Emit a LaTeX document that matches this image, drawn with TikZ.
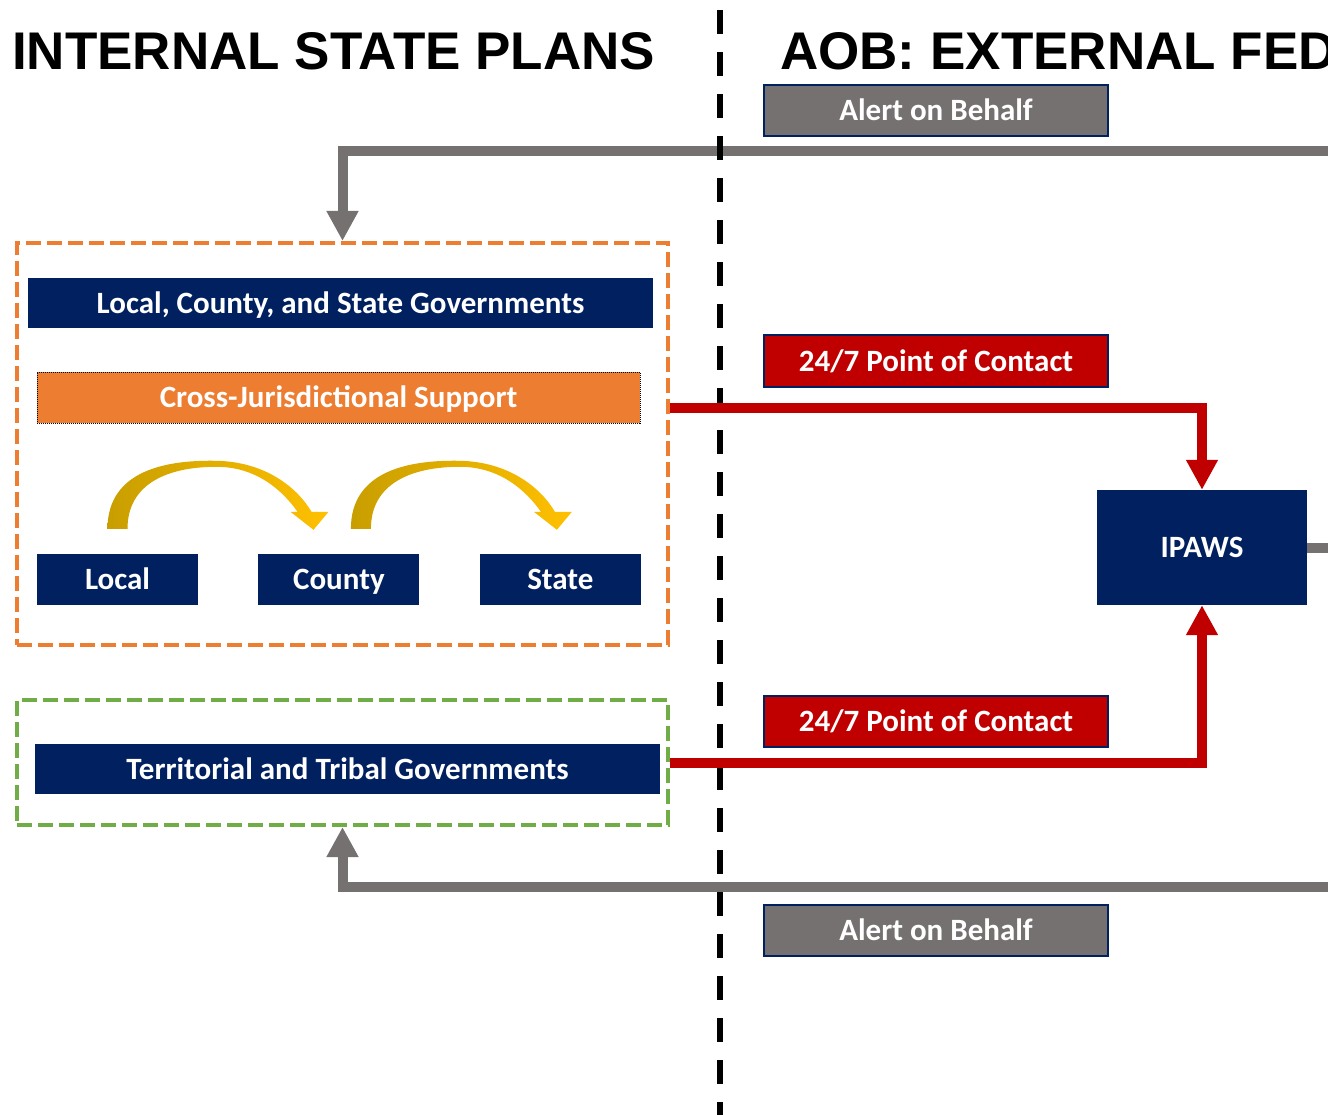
\documentclass[tikz,border=0pt]{standalone}
\usepackage{fontspec}
\setmainfont{Carlito}
\newfontfamily\headfont{Liberation Sans}
\usetikzlibrary{arrows.meta, positioning}

\definecolor{fednavy}{RGB}{0,32,96}
\definecolor{planorange}{RGB}{237,125,49}
\definecolor{tribegreen}{RGB}{112,173,71}
\definecolor{pocred}{RGB}{192,0,0}
\definecolor{aobgray}{RGB}{118,113,113}
\definecolor{golddark}{RGB}{200,158,0}
\definecolor{goldlight}{RGB}{255,192,0}

\tikzset{
x=1pt, y=-1pt, % one unit per pixel, y runs down the page
>={Triangle[width=30pt,length=30pt]}, % wide block arrow heads
title/.style={inner sep=0pt, anchor=base west, font=\headfont\bfseries\fontsize{53}{53}\selectfont}, % section headings
box/.style={rectangle, inner sep=0pt, text=white, text height=24pt, text depth=4pt, font=\bfseries\fontsize{31}{31}\selectfont}, % every filled label box
navy/.style={box, fill=fednavy}, % government boxes
tag/.style={box, draw=fednavy, line width=2pt, minimum width=344pt, minimum height=51pt}, % labels on the links
group/.style={rectangle, line width=4pt, dash pattern=on 15pt off 6pt, minimum width=651pt}, % dashed containers
grayline/.style={draw=aobgray, line width=10pt, ->},
redline/.style={draw=pocred, line width=10pt, ->},
divider/.style={draw=black, line width=6pt, dash pattern=on 24pt off 18pt},
}
\tikzset{
  hop/.pic={
    \shade[left color=golddark, right color=goldlight]
      (-10,-25) .. controls (-10,-84) and (50,-94) .. (99,-93)
      .. controls (148,-92) and (180,-66) .. (194,-42)
      -- (211,-42) -- (196,-24) -- (173,-42) -- (180,-42)
      .. controls (166,-62) and (140,-87) .. (99,-87)
      .. controls (50,-87) and (10,-70) .. (10,-25) -- cycle;
  }
}

\begin{document}
\begin{tikzpicture}
  \useasboundingbox (0,0) rectangle (1328,1115);
  \clip (0,0) rectangle (1328,1115);

  % headings
  \node[title] (inttitle) at (12,70) {INTERNAL STATE PLANS};
  \node[title] (exttitle) at (780,70) {AOB: EXTERNAL FED};

  % state side
  \node[group, draw=planorange, minimum height=402pt] (orgbox) at (342.5,444) {};
  \node[navy, minimum width=625pt, minimum height=50pt] (gov) at (340.5,303.5) {Local, County, and State Governments};
  \node[box, fill=planorange, draw=black, line width=1pt, densely dotted, minimum width=603pt, minimum height=51pt] (cross) at (338.5,397.5) {Cross-Jurisdictional Support};
  \node[navy, minimum width=161pt, minimum height=51pt] (local) at (117.5,579.5) {Local};
  \node[navy, minimum width=161pt, minimum height=51pt, right=60pt of local] (county) {County};
  \node[navy, minimum width=161pt, minimum height=51pt, right=60pt of county] (state) {State};
  \pic at (local.north) {hop};
  \pic at ([xshift=22pt]county.north) {hop};

  \node[group, draw=tribegreen, minimum height=125pt] (grnbox) at (342.5,762.5) {};
  \node[navy, minimum width=625pt, minimum height=50pt] (tribal) at (347.5,769) {Territorial and Tribal Governments};

  % federal side
  \node[navy, minimum width=210pt, minimum height=115pt] (ipaws) at (1202,547.5) {IPAWS};
  \node[tag, fill=aobgray] (aobtop) at (936,110.5) {Alert on Behalf};
  \node[tag, fill=pocred] (poctop) at (936,361) {24/7 Point of Contact};
  \node[tag, fill=pocred] (pocbot) at (936,721) {24/7 Point of Contact};
  \node[tag, fill=aobgray] (aobbot) at (936,930) {Alert on Behalf};

  \coordinate (topin) at (1340,151);
  \coordinate (botin) at (1340,887);
  \coordinate (ipawsout) at (1340,547.5);
  \coordinate (divtop) at (720,10);
  \coordinate (divbot) at (720,1125);

  \draw[grayline] (topin) -| (orgbox.north);
  \draw[grayline] (botin) -| (grnbox.south);
  \draw[draw=aobgray, line width=10pt] (ipaws.east) -- (ipawsout);
  \draw[divider] (divtop) -- (divbot);
  \draw[redline] ([yshift=36pt]orgbox.east) -| (ipaws.north);
  \draw[redline] (grnbox.east) -| (ipaws.south);
\end{tikzpicture}
\end{document}
